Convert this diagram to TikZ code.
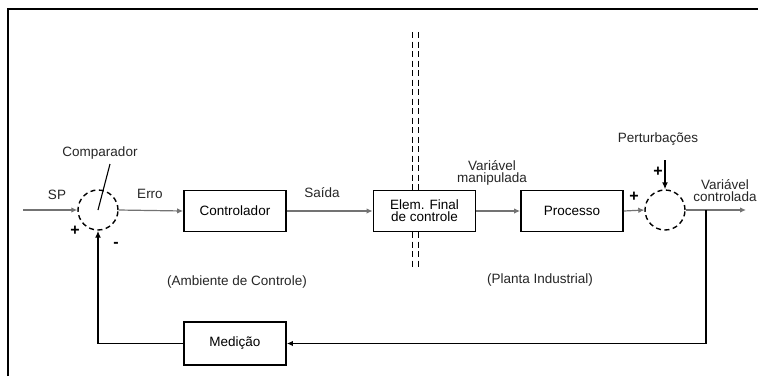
\documentclass[tikz,border=0pt]{standalone}
\usepackage{fontspec}
\setmainfont{Liberation Sans}
\usetikzlibrary{arrows.meta}
\begin{document}
\begin{tikzpicture}[x=1pt,y=-1pt,
  font=\fontsize{13.5}{15}\selectfont,
  blk/.style={draw, line width=1.8pt, minimum width=102pt, minimum height=41pt, inner sep=0pt, align=center},
  sumnode/.style={circle, draw, dashed, dash pattern=on 5pt off 3.5pt, line width=1.4pt, minimum size=40pt, inner sep=0pt},
  sig/.style={draw=black!55, line width=1.2pt, -{Latex[length=6pt,width=5.5pt]}},
  fb/.style={draw=black, line width=1.8pt},
  lbl/.style={inner sep=0pt, align=center, text=black!85},
  sign/.style={inner sep=0pt, font=\fontsize{16}{16}\selectfont\bfseries},
  divider/.style={draw, line width=1.4pt, dash pattern=on 6pt off 3.5pt}]
% page and frame
\useasboundingbox (0,0) rectangle (758,376);
\fill[white] (0,0) rectangle (758,376);
\draw[line width=1.3pt] (8,376) -- (8,9) -- (758,9);

% blocks
\node[blk] (ctrl) at (235,211) {Controlador};
\node[blk] (elem) at (424.5,211) {Elem. Final\\[-3pt]de controle};
\node[blk] (proc) at (572,211) {Processo};
\node[blk, minimum height=43pt] (med) at (235,343.5) {Medição};
\node[sumnode] (sum1) at (98,210) {};
\node[sumnode] (sum2) at (665,210) {};

% free ends of the signal lines
\coordinate (sp) at (23,210);
\coordinate (out) at (746,210);
\coordinate (tap) at (706,210);
\coordinate (dist) at (665,160);

% forward path
\draw[sig] (sp) -- (sum1.west);
\draw[sig] (sum1.east) -- (ctrl.west);
\draw[sig] (ctrl.east) -- (elem.west);
\draw[sig] (elem.east) -- (proc.west);
\draw[sig] (proc.east) -- (sum2.west);
\draw[sig] (sum2.east) -- (out);
\draw[fb, -{Latex[length=7pt,width=6pt]}] (dist) -- (sum2.north);

% feedback path
\draw[fb, -{Latex[length=6pt,width=5.5pt]}] (tap) |- (med.east);
\draw[fb, -{Latex[length=7pt,width=6pt]}] (med.west) -| (sum1.south);

% boundary between control side and plant side
\draw[divider] (412.5,32) -- (412.5,190);
\draw[divider] (418.5,32) -- (418.5,190);
\draw[divider] (412.5,232) -- (412.5,270);
\draw[divider] (418.5,232) -- (418.5,270);

% comparator pointer
\node[lbl] (cmp) at (100,153) {Comparador};
\draw[line width=1.1pt] (110,164) -- (sum1.center);

% labels
\node[lbl] at (57,195) {SP};
\node[sign] at (75,231) {+};
\node[sign] at (116,245) {-};
\node[lbl] at (150,194) {Erro};
\node[lbl] at (322,193) {Saída};
\node[lbl] at (492,173) {Variável\\[-3pt]manipulada};
\node[sign] at (634,197) {+};
\node[lbl] at (658,139) {Perturbações};
\node[sign] at (658,172) {+};
\node[lbl] at (725,191) {Variável\\[-3pt]controlada};
\node[lbl] at (237,282) {(Ambiente de Controle)};
\node[lbl] at (540,280) {(Planta Industrial)};
\end{tikzpicture}
\end{document}
